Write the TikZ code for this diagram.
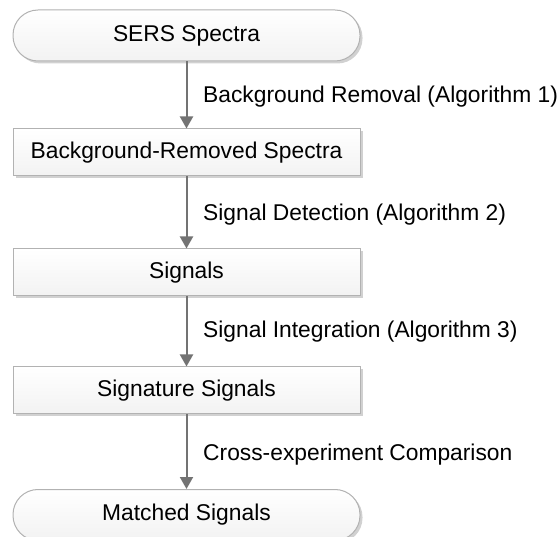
\documentclass[tikz,border=0pt]{standalone}
\usepackage{fontspec}
\setmainfont{Liberation Sans}
\usetikzlibrary{shadows,arrows.meta}
\begin{document}
\begin{tikzpicture}[x=1pt,y=-1pt,
  box/.style={draw=black!30, line width=1pt, top color=white, bottom color=black!5,
    minimum width=347pt, minimum height=47pt, inner sep=0pt,
    font=\fontsize{22.8}{26}\selectfont,
    drop shadow={shadow xshift=2.5pt, shadow yshift=-2.5pt, fill=black!18, opacity=1}},
  term/.style={box, rounded corners=25pt, minimum height=51pt},
  arr/.style={draw=black!55, line width=2pt, -{Triangle[length=12pt,width=13pt]}},
  lab/.style={font=\fontsize{22.8}{26}\selectfont, anchor=west, inner sep=0pt}]
\useasboundingbox (0,0) rectangle (560,537);
\node[term] (a) at (186.5,35.5) {SERS Spectra};
\node[box]  (b) at (186.5,152.5) {Background-Removed Spectra};
\node[box]  (c) at (186.5,272.5) {Signals};
\node[box]  (d) at (186.5,390.5) {Signature Signals};
\node[term] (e) at (186.5,515) {Matched Signals};
\draw[arr] (a) -- (b);
\draw[arr] (b) -- (c);
\draw[arr] (c) -- (d);
\draw[arr] (d) -- (e);
\node[lab] (la) at (203,97) {Background Removal (Algorithm 1)};
\node[lab] (lb) at (203,215) {Signal Detection (Algorithm 2)};
\node[lab] (lc) at (203,332) {Signal Integration (Algorithm 3)};
\node[lab] (ld) at (203,455) {Cross-experiment Comparison};
\end{tikzpicture}
\end{document}
